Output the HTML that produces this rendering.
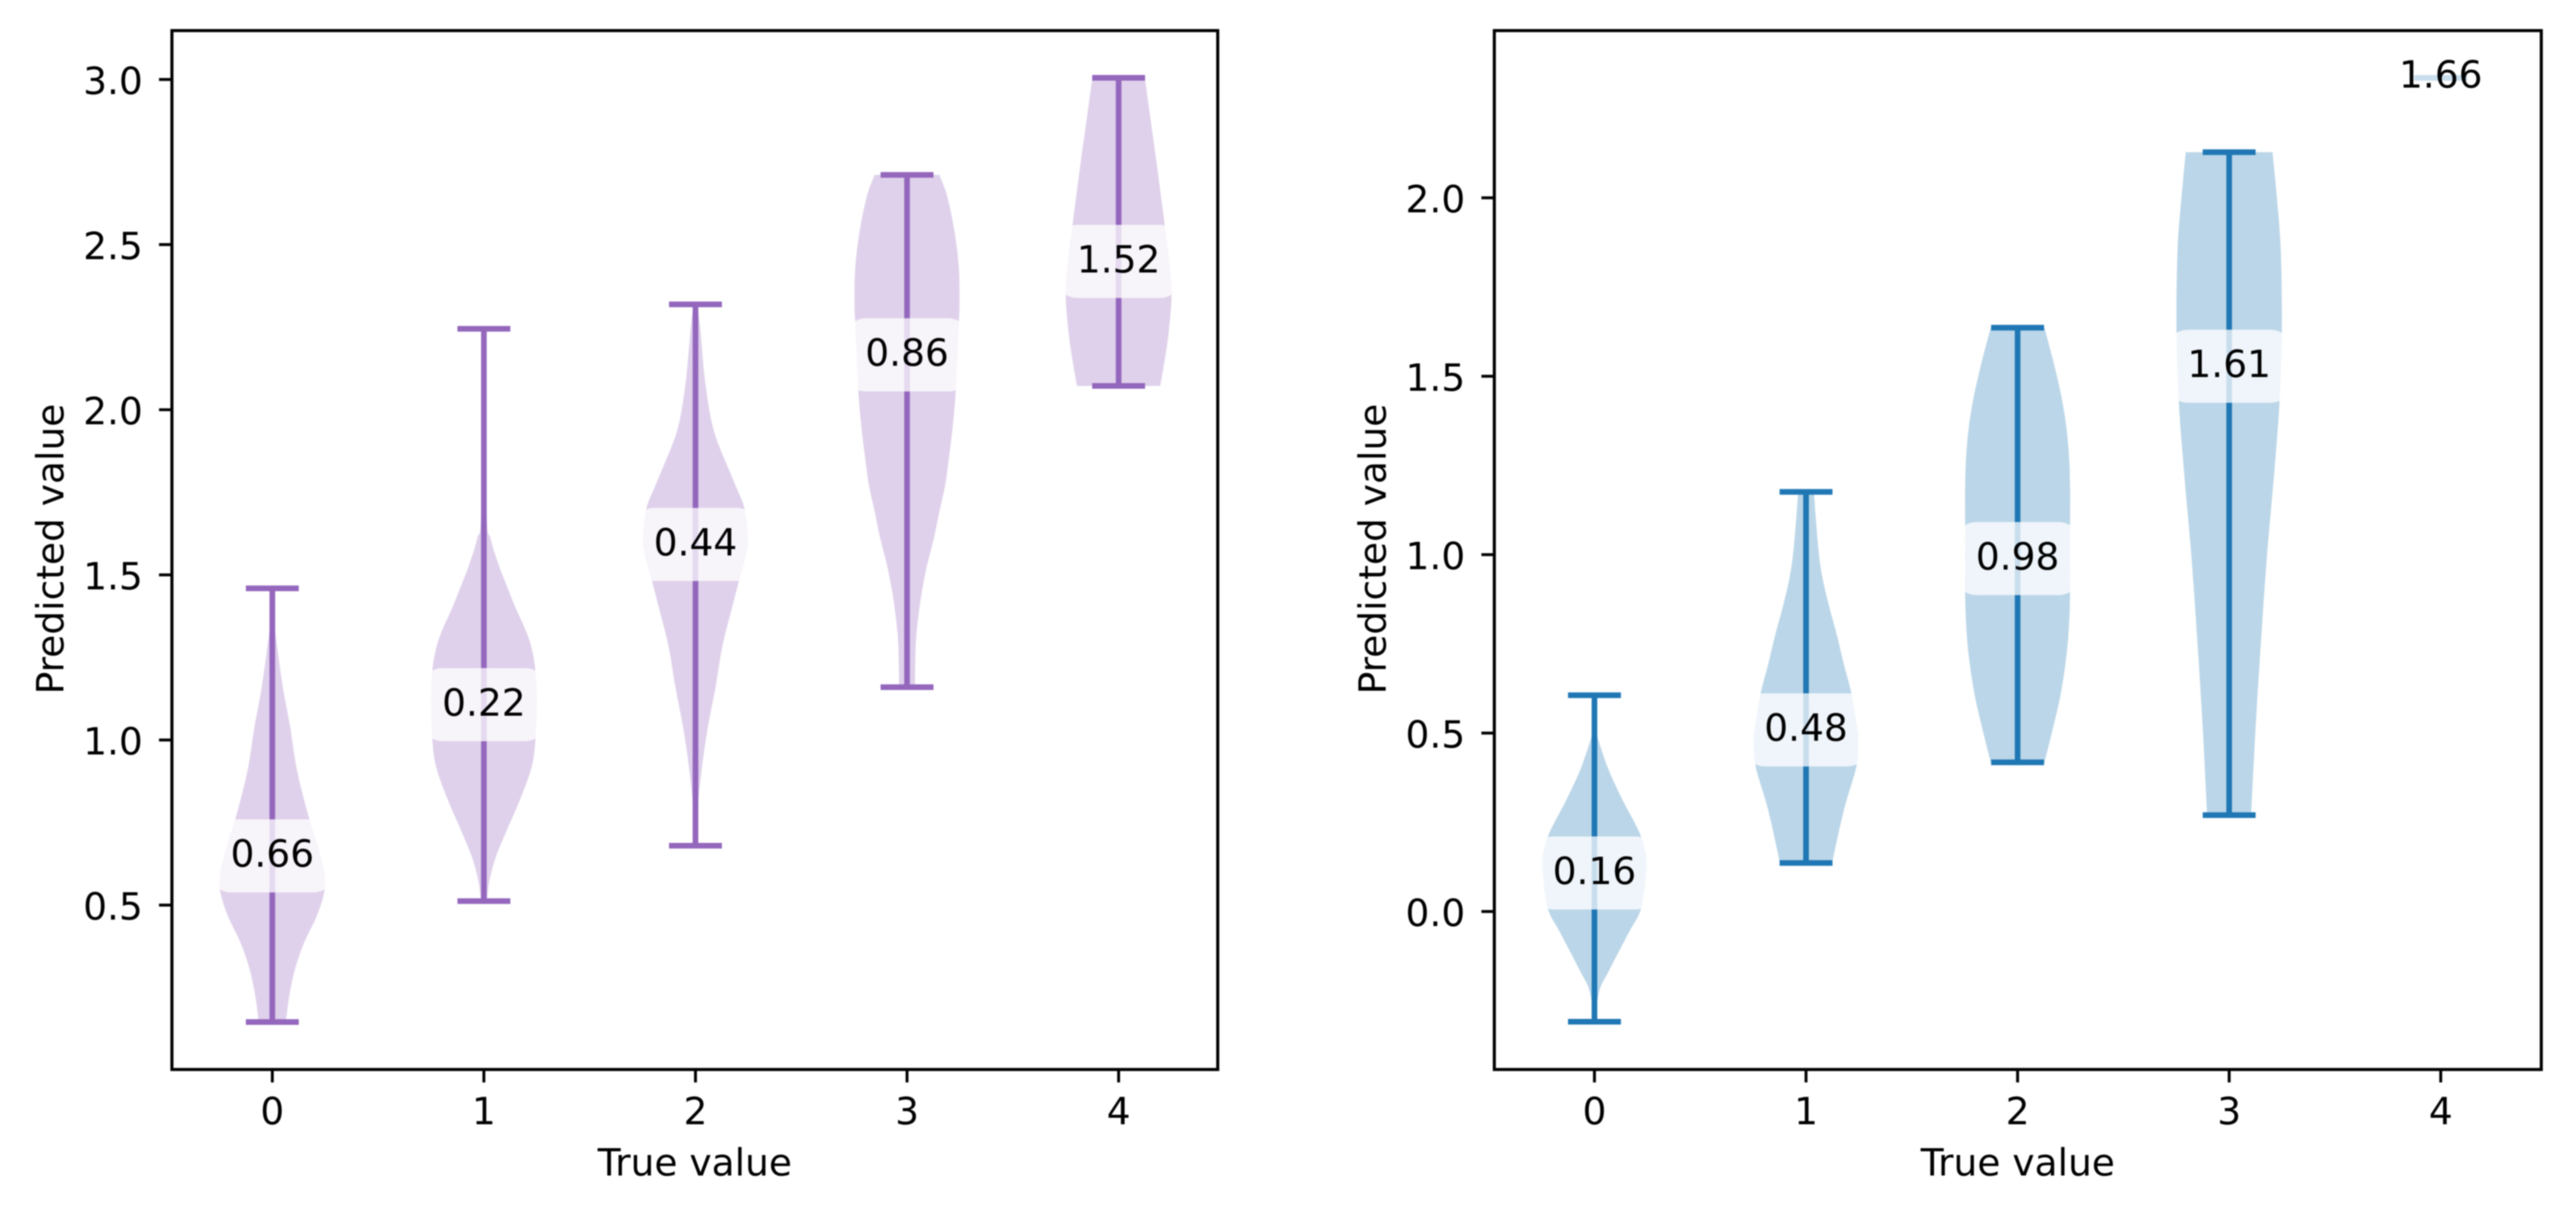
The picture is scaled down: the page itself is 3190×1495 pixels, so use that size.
<!DOCTYPE html>
<html lang="en">
<head>
<meta charset="utf-8">
<title>Predicted vs true value violin plots</title>
<style>
  html, body { margin: 0; padding: 0; background: #fff; width: 3190px; height: 1495px; overflow: hidden; }
  svg { display: block; filter: blur(0.9px); }
  text { font-family: "DejaVu Sans", "Liberation Sans", sans-serif; font-size: 46.5px; fill: #000; text-rendering: geometricPrecision; }
</style>
</head>
<body>
<svg id="chart" xmlns="http://www.w3.org/2000/svg" width="3190" height="1495" viewBox="0 0 3190 1495"></svg>
<script>
// ---- shared categories ----
const categories = [0, 1, 2, 3, 4];

// ---- left panel data ----
const leftYTicks = [0.5, 1.0, 1.5, 2.0, 2.5, 3.0];
const leftYTickLabels = ["0.5", "1.0", "1.5", "2.0", "2.5", "3.0"];
const leftCapMax = [1.459, 2.245, 2.319, 2.711, 3.005];
const leftCapMin = [0.146, 0.512, 0.680, 1.160, 2.072];
const leftLabelY = [0.649, 1.107, 1.592, 2.166, 2.449];
const leftLabelText = ["0.66", "0.22", "0.44", "0.86", "1.52"];

const leftV0Levels = [1.459, 1.345, 1.283, 1.16, 1.037, 0.914, 0.79, 0.667, 0.593, 0.538, 0.47, 0.40, 0.359, 0.298, 0.224, 0.146];
const leftV0Widths = [0.004, 0.012, 0.023, 0.05, 0.085, 0.115, 0.162, 0.22, 0.247, 0.245, 0.212, 0.16, 0.134, 0.104, 0.08, 0.064];
const leftV1Levels = [2.245, 1.70, 1.609, 1.53, 1.48, 1.406, 1.32, 1.26, 1.2, 1.123, 0.996, 0.914, 0.815, 0.729, 0.643, 0.569, 0.512];
const leftV1Widths = [0.002, 0.012, 0.032, 0.07, 0.10, 0.146, 0.205, 0.232, 0.245, 0.25, 0.243, 0.224, 0.168, 0.11, 0.055, 0.025, 0.014];
const leftV2Levels = [2.319, 2.264, 2.10, 1.99, 1.93, 1.88, 1.77, 1.70, 1.609, 1.55, 1.48, 1.406, 1.283, 1.16, 1.037, 0.914, 0.80, 0.68];
const leftV2Widths = [0.005, 0.02, 0.043, 0.068, 0.09, 0.118, 0.19, 0.232, 0.248, 0.235, 0.205, 0.175, 0.127, 0.095, 0.058, 0.03, 0.012, 0.004];
const leftV3Levels = [2.711, 2.646, 2.537, 2.428, 2.319, 2.264, 2.056, 1.95, 1.864, 1.774, 1.692, 1.611, 1.53, 1.448, 1.366, 1.285, 1.16];
const leftV3Widths = [0.153, 0.19, 0.225, 0.245, 0.248, 0.245, 0.23, 0.216, 0.2, 0.181, 0.153, 0.127, 0.095, 0.07, 0.052, 0.041, 0.037];
const leftV4Levels = [3.005, 2.865, 2.755, 2.559, 2.428, 2.34, 2.21, 2.072];
const leftV4Widths = [0.124, 0.154, 0.178, 0.218, 0.243, 0.25, 0.232, 0.197];

// ---- right panel data ----
const rightYTicks = [0.0, 0.5, 1.0, 1.5, 2.0];
const rightYTickLabels = ["0.0", "0.5", "1.0", "1.5", "2.0"];
const rightCapMax = [0.606, 1.176, 1.636, 2.128, 2.336];
const rightCapMin = [-0.309, 0.136, 0.418, 0.270, 2.336];
const rightLabelY = [0.108, 0.509, 0.989, 1.528, 2.339];
const rightLabelText = ["0.16", "0.48", "0.98", "1.61", "1.66"];

const rightV0Levels = [0.492, 0.40, 0.31, 0.26, 0.21, 0.15, 0.082, 0.004, -0.055, -0.124, -0.17, -0.21, -0.25, -0.309];
const rightV0Widths = [0.012, 0.065, 0.135, 0.18, 0.22, 0.245, 0.24, 0.218, 0.166, 0.105, 0.065, 0.03, 0.014, 0.002];
const rightV1Levels = [1.176, 1.025, 0.941, 0.858, 0.774, 0.69, 0.615, 0.523, 0.481, 0.406, 0.287, 0.136];
const rightV1Widths = [0.037, 0.057, 0.076, 0.108, 0.146, 0.18, 0.213, 0.24, 0.247, 0.238, 0.18, 0.123];
const rightV2Levels = [1.636, 1.527, 1.443, 1.36, 1.276, 1.192, 1.092, 0.891, 0.774, 0.69, 0.607, 0.523, 0.418];
const rightV2Widths = [0.127, 0.175, 0.207, 0.23, 0.243, 0.248, 0.248, 0.248, 0.24, 0.225, 0.203, 0.171, 0.127];
const rightV3Levels = [2.128, 2.004, 1.852, 1.63, 1.428, 1.23, 0.992, 0.754, 0.516, 0.27];
const rightV3Widths = [0.205, 0.225, 0.244, 0.249, 0.238, 0.213, 0.178, 0.15, 0.125, 0.104];
const rightV4Levels = [];
const rightV4Widths = [];

const SVG_NS = "http://www.w3.org/2000/svg";
const root = document.getElementById("chart");
const CAP_HALF = 0.125;

function make(tag, attrs, parent) {
  const el = document.createElementNS(SVG_NS, tag);
  for (const k in attrs) el.setAttribute(k, attrs[k]);
  parent.appendChild(el);
  return el;
}

function smoothSide(points, movePrefix) {
  let d = movePrefix + points[0][0].toFixed(2) + " " + points[0][1].toFixed(2);
  for (let i = 0; i < points.length - 1; i++) {
    const p0 = points[Math.max(0, i - 1)];
    const p1 = points[i];
    const p2 = points[i + 1];
    const p3 = points[Math.min(points.length - 1, i + 2)];
    const c1x = p1[0] + (p2[0] - p0[0]) / 6, c1y = p1[1] + (p2[1] - p0[1]) / 6;
    const c2x = p2[0] - (p3[0] - p1[0]) / 6, c2y = p2[1] - (p3[1] - p1[1]) / 6;
    d += " C" + c1x.toFixed(2) + " " + c1y.toFixed(2) + " " + c2x.toFixed(2) + " " + c2y.toFixed(2) + " " + p2[0].toFixed(2) + " " + p2[1].toFixed(2);
  }
  return d;
}

function drawPanel(p) {
  const xScale = (p.right - p.left) / (p.xMax - p.xMin);
  const yScale = (p.bottom - p.top) / (p.yMax - p.yMin);
  const X = v => p.left + (v - p.xMin) * xScale;
  const Y = v => p.bottom - (v - p.yMin) * yScale;

  const g = make("g", {}, root);
  
  

  const bodies = make("g", {}, g);
  
  
  const lines = make("g", {}, g);
  
  
  const labels = make("g", {}, g);
  
  

  categories.forEach((cat, i) => {
    const levels = p.levels[i], widths = p.widths[i];
    if (levels.length) {
      const a = levels.map((v, k) => [X(cat) - widths[k] * xScale, Y(v)]);
      const b = levels.map((v, k) => [X(cat) + widths[k] * xScale, Y(v)]).reverse();
      const d = smoothSide(a, "M") + smoothSide(b, " L") + " Z";
      const body = make("path", { d: d, fill: p.color, "fill-opacity": 0.3 }, bodies);
      
      
    }
    const stem = make("line", { x1: X(cat), x2: X(cat), y1: Y(p.capMax[i]), y2: Y(p.capMin[i]), stroke: p.color, "stroke-width": 7 }, lines);
    
    
    const capTop = make("line", { x1: X(cat - CAP_HALF), x2: X(cat + CAP_HALF), y1: Y(p.capMax[i]), y2: Y(p.capMax[i]), stroke: p.color, "stroke-width": 7 }, lines);
    
    
    const capBottom = make("line", { x1: X(cat - CAP_HALF), x2: X(cat + CAP_HALF), y1: Y(p.capMin[i]), y2: Y(p.capMin[i]), stroke: p.color, "stroke-width": 7 }, lines);
    
    

    const ly = Y(p.labelY[i]);
    const box = make("rect", { x: X(cat) - 78, y: ly - 45.3, width: 156, height: 90.6, rx: 27, ry: 27, fill: "#fff", "fill-opacity": 0.76 }, labels);
    
    
    const t = make("text", { x: X(cat), y: ly + 13.5, "text-anchor": "middle" }, labels);
    t.textContent = p.labelText[i];
    
    
  });

  const frame = make("rect", { x: p.left, y: p.top, width: p.right - p.left, height: p.bottom - p.top, fill: "none", stroke: "#000", "stroke-width": 3.8 }, g);
  
  

  p.yTicks.forEach((v, i) => {
    const tick = make("line", { x1: p.left - 16, x2: p.left, y1: Y(v), y2: Y(v), stroke: "#000", "stroke-width": 3.6 }, g);
    
    
    const label = make("text", { x: p.left - 36, y: Y(v) + 18, "text-anchor": "end" }, g);
    label.textContent = p.yTickLabels[i];
    
    
  });

  categories.forEach(cat => {
    const tick = make("line", { x1: X(cat), x2: X(cat), y1: p.bottom, y2: p.bottom + 16, stroke: "#000", "stroke-width": 3.6 }, g);
    
    
    const label = make("text", { x: X(cat), y: 1392.7, "text-anchor": "middle" }, g);
    label.textContent = String(cat);
    
    
  });

  const xTitle = make("text", { x: (p.left + p.right) / 2, y: 1456, "text-anchor": "middle" }, g);
  xTitle.textContent = "True value";
  
  

  const yx = p.left - 134.4, yy = 680;
  const yTitle = make("text", { x: yx, y: yy, "text-anchor": "middle", transform: "rotate(-90 " + yx + " " + yy + ")" }, g);
  yTitle.textContent = "Predicted value";
  
  
}

drawPanel({
  name: "left-violin-panel", color: "#9467bd",
  left: 212.9, right: 1508, top: 37.9, bottom: 1324.7,
  xMin: -0.4745, xMax: 4.4685, yMin: 0.0022, yMax: 3.148,
  yTicks: leftYTicks, yTickLabels: leftYTickLabels,
  capMax: leftCapMax, capMin: leftCapMin, labelY: leftLabelY, labelText: leftLabelText,
  levels: [leftV0Levels, leftV1Levels, leftV2Levels, leftV3Levels, leftV4Levels],
  widths: [leftV0Widths, leftV1Widths, leftV2Widths, leftV3Widths, leftV4Widths]
});

drawPanel({
  name: "right-violin-panel", color: "#1f77b4",
  left: 1850.5, right: 3147, top: 37.9, bottom: 1324.7,
  xMin: -0.4733, xMax: 4.4752, yMin: -0.4428, yMax: 2.4686,
  yTicks: rightYTicks, yTickLabels: rightYTickLabels,
  capMax: rightCapMax, capMin: rightCapMin, labelY: rightLabelY, labelText: rightLabelText,
  levels: [rightV0Levels, rightV1Levels, rightV2Levels, rightV3Levels, rightV4Levels],
  widths: [rightV0Widths, rightV1Widths, rightV2Widths, rightV3Widths, rightV4Widths]
});
</script>
</body>
</html>
